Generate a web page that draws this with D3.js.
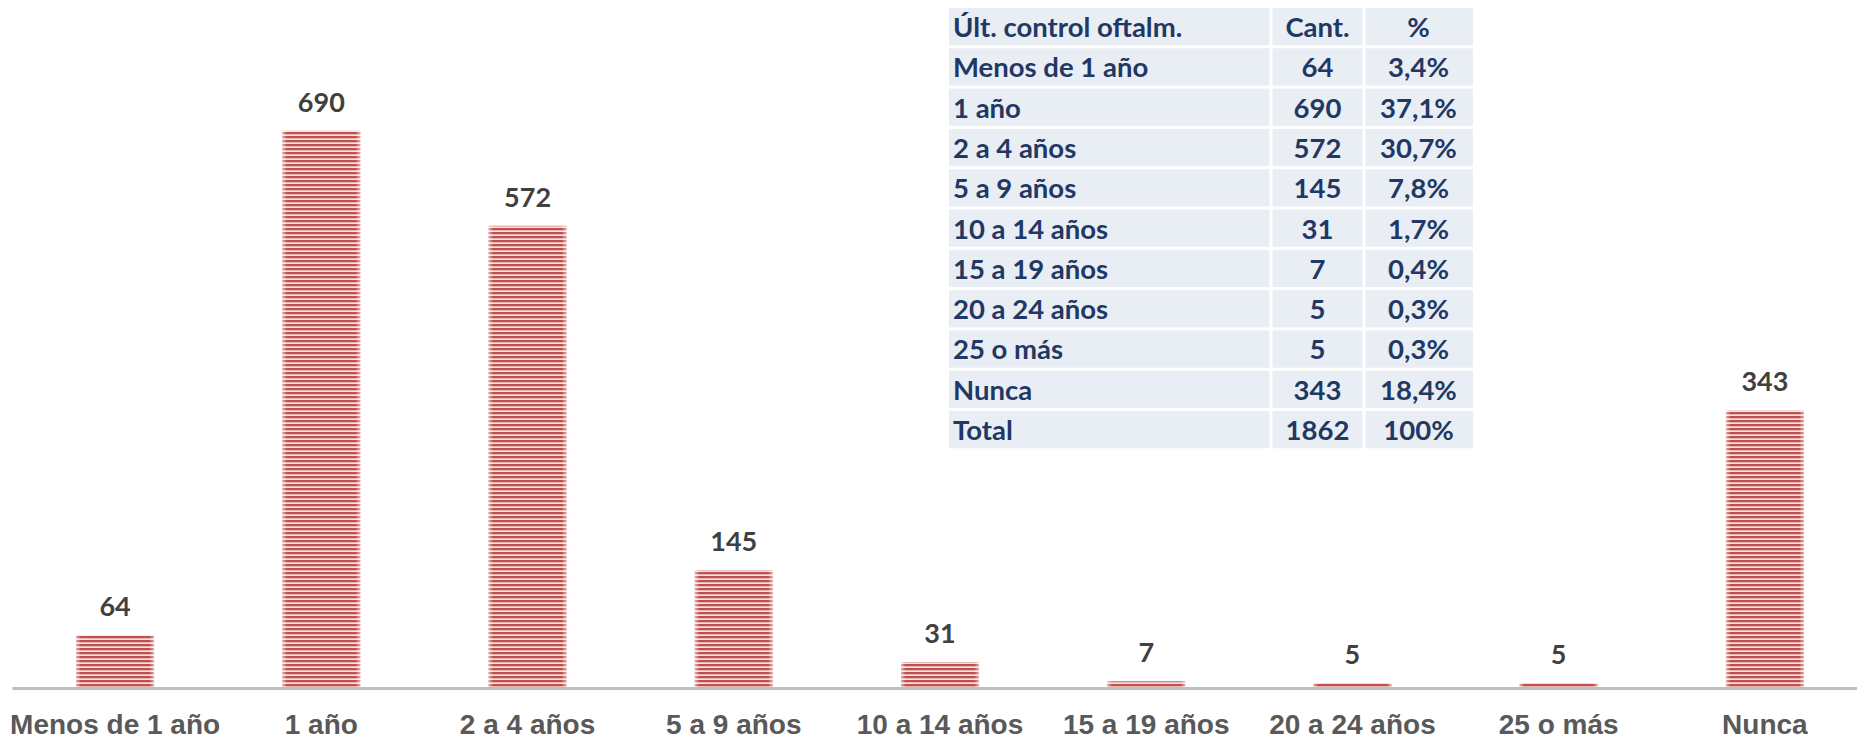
<!DOCTYPE html>
<html>
<head>
<meta charset="utf-8">
<script src="https://cdn.jsdelivr.net/npm/d3@7"></script>
<style>
    body { margin: 0; background: #fff; }
    svg { display: block; font-family: Lato, "Open Sans", sans-serif; font-weight: bold; }
    .axis .domain { stroke: #bfbfbf; stroke-width: 3; }
    .axis .tick text { fill: #595959; font-size: 28px; font-weight: bold; }
    .value-label { fill: #404040; font-size: 27px; text-anchor: middle; }
    .table-text { fill: #1f3864; font-size: 27.5px; }
</style>
</head>
<body>
<div id="chart"></div>
<script>
// data
var categories = ["Menos de 1 año", "1 año", "2 a 4 años", "5 a 9 años", "10 a 14 años",
                  "15 a 19 años", "20 a 24 años", "25 o más", "Nunca"];
var counts = [64, 690, 572, 145, 31, 7, 5, 5, 343];
var percents = ["3,4%", "37,1%", "30,7%", "7,8%", "1,7%", "0,4%", "0,3%", "0,3%", "18,4%"];
var tableHeader = ["Últ. control oftalm.", "Cant.", "%"];
var tableTotal = ["Total", "1862", "100%"];

var width = 1857, height = 744;

var svg = d3.select("#chart")
    .append("svg")
    .attr("width", width)
    .attr("height", height);

// striped fill like the excel pattern
var defs = svg.append("defs");
var pat = defs.append("pattern")
    .attr("id", "stripes")
    .attr("patternUnits", "userSpaceOnUse")
    .attr("width", 8)
    .attr("height", 4);
pat.append("rect").attr("width", 8).attr("height", 4).attr("fill", "#f6e2e1");
pat.append("rect").attr("width", 8).attr("height", 2.3).attr("fill", "#c0504d");

var edge = defs.append("linearGradient").attr("id", "edge");
[[0, 0.55], [0.06, 0], [0.94, 0], [1, 0.55]].forEach(function(s) {
    edge.append("stop").attr("offset", s[0]).attr("stop-color", "#fff").attr("stop-opacity", s[1]);
});

var xScale = d3.scaleBand()
    .domain(categories)
    .range([12, 1868])
    .paddingInner(0.622)
    .paddingOuter(0.311);

var yScale = d3.scaleLinear()
    .domain([0, 800])
    .range([687, 42]);

var bars = svg.selectAll(".bar")
    .data(counts)
    .enter()
    .append("g")
    .attr("class", "bar");

bars.append("rect")
    .attr("x", (d, i) => xScale(categories[i]))
    .attr("y", d => yScale(d))
    .attr("width", xScale.bandwidth())
    .attr("height", d => yScale(0) - yScale(d))
    .attr("fill", "url(#stripes)");

bars.append("rect")
    .attr("x", (d, i) => xScale(categories[i]))
    .attr("y", d => yScale(d))
    .attr("width", xScale.bandwidth())
    .attr("height", d => yScale(0) - yScale(d))
    .attr("fill", "url(#edge)");

svg.selectAll(".value-label")
    .data(counts)
    .enter()
    .append("text")
    .attr("class", "value-label")
    .attr("x", (d, i) => xScale(categories[i]) + xScale.bandwidth() / 2)
    .attr("y", d => yScale(d) - 19)
    .text(d => d);

var xAxis = d3.axisBottom(xScale).tickSize(0).tickPadding(0);

svg.append("g")
    .attr("class", "axis x-axis")
    .attr("transform", "translate(0,688)")
    .call(xAxis)
    .selectAll(".tick text")
    .attr("y", 46)
    .attr("dy", 0);

// table in the top right
var rows = [tableHeader].concat(categories.map(function(c, i) {
    return [c, String(counts[i]), percents[i]];
})).concat([tableTotal]);

var colEdges = [949, 1271, 1364, 1473];
var rowTop = 8, rowStep = 40.3, gap = 3;

var table = svg.append("g").attr("class", "table");

var tr = table.selectAll(".row")
    .data(rows)
    .enter()
    .append("g")
    .attr("class", "row")
    .attr("transform", (d, i) => "translate(0," + (rowTop + i * rowStep) + ")");

tr.selectAll("rect")
    .data(d => d)
    .enter()
    .append("rect")
    .attr("x", (d, j) => colEdges[j] + (j > 0 ? gap / 2 : 0))
    .attr("width", (d, j) => colEdges[j + 1] - colEdges[j] - (j > 0 ? gap / 2 : 0) - (j < 2 ? gap / 2 : 0))
    .attr("height", rowStep - gap)
    .attr("fill", "#e9edf4");

tr.selectAll("text")
    .data(d => d)
    .enter()
    .append("text")
    .attr("class", "table-text")
    .attr("x", (d, j) => j == 0 ? colEdges[0] + 4 : (colEdges[j] + colEdges[j + 1]) / 2)
    .attr("y", 29)
    .attr("text-anchor", (d, j) => j == 0 ? "start" : "middle")
    .text(d => d);
</script>
</body>
</html>
